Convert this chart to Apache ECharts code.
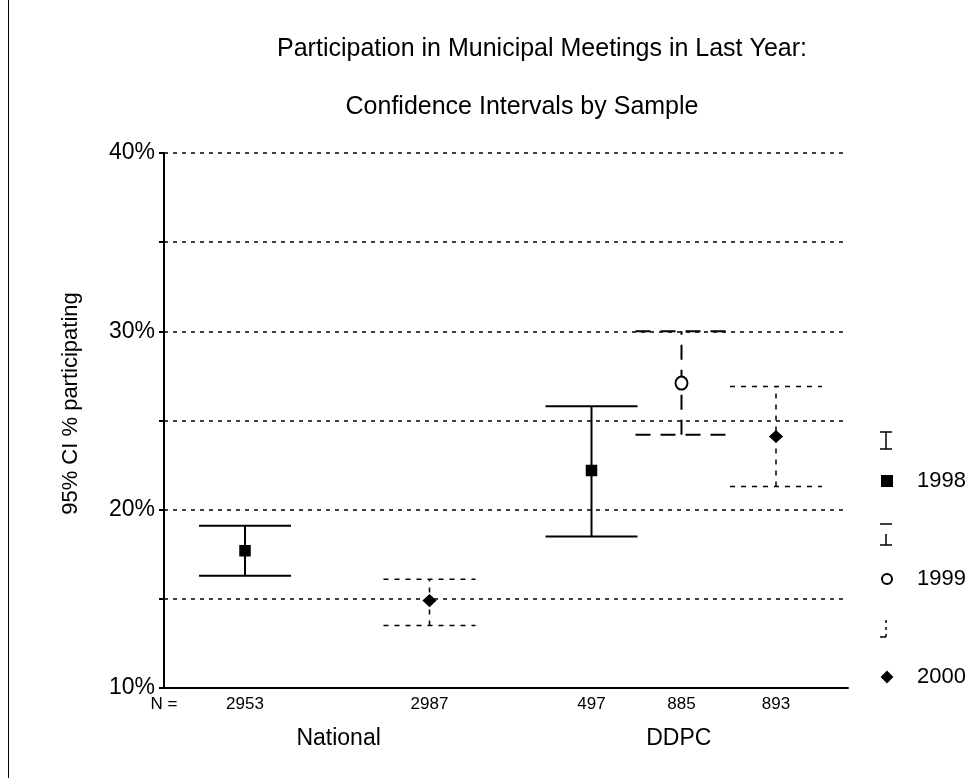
<!DOCTYPE html>
<html>
<head>
<meta charset="utf-8">
<script src="https://cdn.jsdelivr.net/npm/echarts@6/dist/echarts.min.js"></script>
<style>
  html, body { margin: 0; padding: 0; background: #fff; }
  #chart { width: 971px; height: 778px; }
</style>
</head>
<body>
<div id="chart"></div>
<script>
// samples (N) with their slot on the x axis, grouped National / DDPC
var samples = ["2953", "2987", "497", "885", "893"];
var sampleX = [0.9, 2.95, 4.75, 5.75, 6.8];
var sampleYear = ["1998", "2000", "1998", "1999", "2000"];
var groups = ["National", "DDPC"];
var groupX = [1.94, 5.72];
var years = ["1998", "1999", "2000"];

// 95% CI in percent
var ciLow = [16.3, 13.5, 18.5, 24.2, 21.3];
var ciMean = [17.7, 14.9, 22.2, 27.1, 24.1];
var ciHigh = [19.1, 16.1, 25.8, 30.0, 26.9];

var yTicks = [10, 20, 30, 40];

var FONT = "Liberation Sans";
var nLabelX = 0;

// line look and marker per year
var yearDash = { "1998": null, "1999": [15, 10], "2000": [5, 6] };
var yearWidth = { "1998": 2, "1999": 2, "2000": 1.5 };
var yearSymbol = { "1998": "rect", "1999": "emptyCircle", "2000": "diamond" };
var yearSize = { "1998": [10, 10], "1999": [12, 13], "2000": [12, 11] };

function rowsFor(year) {
  var rows = [];
  for (var i = 0; i < samples.length; i++) {
    if (sampleYear[i] === year) rows.push([sampleX[i], ciLow[i], ciHigh[i], ciMean[i]]);
  }
  return rows;
}

var series = [];
// markers first so the legend takes its icon style from them
years.forEach(function (yr) {
  series.push({
    name: yr,
    type: "scatter",
    symbol: yearSymbol[yr],
    symbolSize: yearSize[yr],
    color: "#000",
    data: rowsFor(yr).map(function (r) { return [r[0], r[3]]; }),
    itemStyle: { color: "#000", borderColor: "#000", borderWidth: 1.5, opacity: 1 },
    z: 5
  });
});
years.forEach(function (yr) {
  series.push({
    name: yr,
    type: "custom",
    silent: true,
    color: "#000",
    data: rowsFor(yr),
    encode: { x: 0, y: [1, 2] },
    renderItem: function (params, api) {
      var lo = api.coord([api.value(0), api.value(1)]);
      var hi = api.coord([api.value(0), api.value(2)]);
      var half = 46;
      var style = { stroke: "#000", lineWidth: yearWidth[yr], lineDash: yearDash[yr], fill: null };
      return {
        type: "group",
        children: [
          { type: "line", shape: { x1: lo[0], y1: lo[1], x2: hi[0], y2: hi[1] }, style: style },
          { type: "line", shape: { x1: lo[0] - half, y1: lo[1], x2: lo[0] + half, y2: lo[1] }, style: style },
          { type: "line", shape: { x1: hi[0] - half, y1: hi[1], x2: hi[0] + half, y2: hi[1] }, style: style }
        ]
      };
    },
    z: 3
  });
});

// legend error-bar glyphs (drawn above each legend marker)
var glyphTop = [432, 524, 620];
var glyphs = [];
years.forEach(function (yr, i) {
  var x = 886, t = glyphTop[i], b = t + 17;
  var st = { stroke: "#000", lineWidth: 1.5 };
  if (yr === "1998") {
    glyphs.push({ type: "line", shape: { x1: x, y1: t, x2: x, y2: b }, style: st });
    glyphs.push({ type: "line", shape: { x1: x - 6, y1: t, x2: x + 6, y2: t }, style: st });
    glyphs.push({ type: "line", shape: { x1: x - 6, y1: b, x2: x + 6, y2: b }, style: st });
  } else if (yr === "1999") {
    b = t + 21;
    glyphs.push({ type: "line", shape: { x1: x - 6, y1: t, x2: x + 6, y2: t }, style: st });
    glyphs.push({ type: "line", shape: { x1: x, y1: t + 10, x2: x, y2: b }, style: st });
    glyphs.push({ type: "line", shape: { x1: x - 6, y1: b, x2: x + 6, y2: b }, style: st });
  } else {
    glyphs.push({ type: "line", shape: { x1: x, y1: t, x2: x, y2: b }, style: { stroke: "#000", lineWidth: 1.5, lineDash: [3, 4] } });
    glyphs.push({ type: "line", shape: { x1: x - 6, y1: b, x2: x, y2: b }, style: st });
  }
});
glyphs.push({ type: "line", shape: { x1: 8.5, y1: 0, x2: 8.5, y2: 778 }, style: { stroke: "#000", lineWidth: 1 } });

var myChart = echarts.init(document.getElementById("chart"));

var option = {
  backgroundColor: "#fff",
  animation: false,
  title: [
    { text: "Participation in Municipal Meetings in Last Year:", left: 537, top: 32, textAlign: "center",
      textStyle: { fontFamily: FONT, fontSize: 25, fontWeight: "normal", color: "#000" } },
    { text: "Confidence Intervals by Sample", left: 517, top: 90, textAlign: "center",
      textStyle: { fontFamily: FONT, fontSize: 25, fontWeight: "normal", color: "#000" } }
  ],
  grid: { left: 164, right: 123, top: 153, bottom: 90 },
  legend: {
    orient: "vertical",
    left: 876,
    top: 464,
    itemGap: 74,
    itemWidth: 10,
    itemHeight: 10,
    selectedMode: false,
    textStyle: { fontFamily: FONT, fontSize: 22, color: "#000", lineHeight: 24, padding: [0, 0, 0, 20] },
    data: [
      { name: "1998", icon: "rect", itemStyle: { color: "#000", opacity: 1 } },
      { name: "1999", icon: "emptyCircle", itemStyle: { color: "#000", borderColor: "#000", borderWidth: 1.5, opacity: 1 } },
      { name: "2000", icon: "diamond", itemStyle: { color: "#000", opacity: 1 } }
    ]
  },
  xAxis: [
    {
      type: "value",
      min: 0,
      max: 7.6,
      splitLine: { show: false },
      axisLine: { lineStyle: { color: "#000", width: 2 } },
      axisTick: { show: false },
      axisLabel: {
        customValues: [nLabelX].concat(sampleX),
        showMinLabel: true,
        margin: 8,
        fontFamily: FONT,
        fontSize: 17,
        color: "#000",
        formatter: function (v) {
          if (v === nLabelX) return "N =";
          var i = sampleX.indexOf(v);
          return i >= 0 ? samples[i] : "";
        }
      }
    },
    {
      type: "value",
      position: "bottom",
      offset: 31,
      min: 0,
      max: 7.6,
      splitLine: { show: false },
      axisLine: { show: false },
      axisTick: { show: false },
      axisLabel: {
        customValues: groupX,
        fontFamily: FONT,
        fontSize: 23,
        color: "#000",
        formatter: function (v) {
          var i = groupX.indexOf(v);
          return i >= 0 ? groups[i] : "";
        }
      }
    }
  ],
  yAxis: {
    type: "value",
    min: 10,
    max: 40,
    interval: 5,
    name: "95% CI % participating",
    nameLocation: "middle",
    nameGap: 82,
    nameTextStyle: { fontFamily: FONT, fontSize: 22, color: "#000", padding: [0, 0, 0, 34] },
    axisLine: { show: true, lineStyle: { color: "#000", width: 2 } },
    axisTick: { show: true, length: 5, lineStyle: { color: "#000", width: 2 } },
    axisLabel: {
      margin: 9,
      fontFamily: FONT,
      fontSize: 23,
      color: "#000",
      formatter: function (v) {
        return yTicks.indexOf(v) >= 0 ? v + "%" : "";
      }
    },
    splitLine: { show: true, lineStyle: { color: "#000", width: 1.5, type: [4, 5] } }
  },
  graphic: glyphs,
  series: series
};

myChart.setOption(option);
</script>
</body>
</html>
